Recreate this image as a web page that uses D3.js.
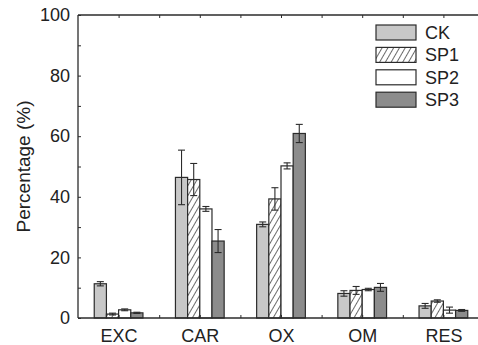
<!doctype html>
<html lang="en">
<head>
  <meta charset="utf-8">
  <title>Percentage by fraction</title>
  <script src="https://cdn.jsdelivr.net/npm/d3@7"></script>
  <style>
    body{margin:0;background:#fff}
    text{font-family:"Liberation Sans",Arial,sans-serif;fill:#222}
  </style>
</head>
<body>
<div id="chart"></div>
<script>
var categories = ["EXC", "CAR", "OX", "OM", "RES"];
var series = ["CK", "SP1", "SP2", "SP3"];
var ck = [11.3, 46.4, 30.9, 8.1, 4.0];
var ckErr = [0.7, 9.0, 0.8, 0.9, 0.8];
var sp1 = [1.3, 45.7, 39.3, 9.1, 5.6];
var sp1Err = [0.3, 5.3, 3.7, 1.3, 0.4];
var sp2 = [2.7, 36.0, 50.2, 9.4, 2.6];
var sp2Err = [0.3, 0.8, 1.0, 0.4, 1.0];
var sp3 = [1.7, 25.4, 60.9, 10.1, 2.5];
var sp3Err = [0.2, 3.8, 3.0, 1.3, 0.3];
var yTicks = [0, 20, 40, 60, 80, 100];

var values = [ck, sp1, sp2, sp3], errors = [ckErr, sp1Err, sp2Err, sp3Err];
var fills = ["#c8c8c8", "url(#hatch)", "#ffffff", "#8c8c8c"];
var ink = "#2b2b2b";

var W = 478, H = 345,
    mLeft = 78, mTop = 15, mBottom = 318;

var svg = d3.select("#chart").append("svg").attr("width", W).attr("height", H);

var defs = svg.append("defs");
defs.append("pattern").attr("id", "hatch").attr("patternUnits", "userSpaceOnUse")
  .attr("width", 5).attr("height", 5).attr("patternTransform", "rotate(30)")
  .call(function (p) {
    p.append("rect").attr("width", 5).attr("height", 5).attr("fill", "#fff");
    p.append("line").attr("x1", 0).attr("y1", 0).attr("x2", 0).attr("y2", 5)
      .attr("stroke", ink).attr("stroke-width", 1.4);
  });

// positions: category i sits at i + 1, frame starts at 0.5
var x = d3.scaleLinear().domain([0.5, 5.5]).range([mLeft, mLeft + 406]);
var y = d3.scaleLinear().domain([0, 100]).range([mBottom, mTop]);
var bw = 0.15;

// bars
var rows = [];
categories.forEach(function (c, i) {
  series.forEach(function (s, j) {
    rows.push({ c: c, i: i, j: j, v: values[j][i], e: errors[j][i] });
  });
});

var g = svg.append("g");
g.selectAll("rect.bar").data(rows).enter().append("rect")
  .attr("class", "bar")
  .attr("x", function (d) { return x(d.i + 1 - 2 * bw + d.j * bw); })
  .attr("width", function () { return x(1 + bw) - x(1); })
  .attr("y", function (d) { return y(d.v); })
  .attr("height", function (d) { return y(0) - y(d.v); })
  .attr("fill", function (d) { return fills[d.j]; })
  .attr("stroke", ink).attr("stroke-width", 1.2);

// error bars
var eb = g.selectAll("g.err").data(rows).enter().append("g").attr("class", "err")
  .attr("stroke", ink).attr("stroke-width", 1.1);
function cx(d) { return x(d.i + 1 - 1.5 * bw + d.j * bw); }
eb.append("line")
  .attr("x1", cx).attr("x2", cx)
  .attr("y1", function (d) { return y(d.v + d.e); })
  .attr("y2", function (d) { return y(d.v - d.e); });
[1, -1].forEach(function (sg) {
  eb.append("line")
    .attr("x1", function (d) { return cx(d) - 3.5; })
    .attr("x2", function (d) { return cx(d) + 3.5; })
    .attr("y1", function (d) { return y(d.v + sg * d.e); })
    .attr("y2", function (d) { return y(d.v + sg * d.e); });
});

// frame
var frame = svg.append("g").attr("stroke", ink).attr("stroke-width", 1.3);
frame.append("line").attr("x1", mLeft).attr("x2", W).attr("y1", mTop).attr("y2", mTop);
frame.append("line").attr("x1", mLeft).attr("x2", W).attr("y1", mBottom).attr("y2", mBottom);
frame.append("line").attr("x1", mLeft).attr("x2", mLeft).attr("y1", mTop).attr("y2", mBottom);

// y axis
var yAxis = svg.append("g").attr("transform", "translate(" + mLeft + ",0)")
  .call(d3.axisLeft(y).tickValues(yTicks).tickSize(0).tickPadding(8));
yAxis.select(".domain").remove();
yAxis.selectAll("text").style("font-size", "18px").attr("fill", "#222");
svg.append("g").attr("transform", "translate(" + mLeft + ",0)")
  .call(d3.axisRight(y).tickValues(d3.range(0, 101, 10)).tickSize(3).tickFormat(""))
  .call(function (a) { a.select(".domain").remove(); a.selectAll("line").attr("stroke", ink); });

// x axis
var xAxis = svg.append("g").attr("transform", "translate(0," + mBottom + ")")
  .call(d3.axisBottom(x).tickValues(d3.range(1, 6)).tickSize(0).tickPadding(11)
    .tickFormat(function (d) { return categories[d - 1]; }));
xAxis.select(".domain").remove();
xAxis.selectAll("text").style("font-size", "18px").attr("fill", "#222");
var minor = d3.range(1, 11).map(function (k) { return 0.5 + k * 0.5; });
svg.append("g").attr("transform", "translate(0," + mBottom + ")")
  .call(d3.axisTop(x).tickValues(minor).tickSize(3).tickFormat(""))
  .call(function (a) { a.select(".domain").remove(); a.selectAll("line").attr("stroke", ink); });
svg.append("g").attr("transform", "translate(0," + mTop + ")")
  .call(d3.axisBottom(x).tickValues(minor).tickSize(3).tickFormat(""))
  .call(function (a) { a.select(".domain").remove(); a.selectAll("line").attr("stroke", ink); });

svg.append("text")
  .attr("transform", "translate(30," + (mTop + mBottom) / 2 + ") rotate(-90)")
  .attr("text-anchor", "middle")
  .style("font-size", "19px")
  .text("Percentage (%)");

// legend
var lg = svg.append("g").attr("transform", "translate(376,25)");
var li = lg.selectAll("g").data(series).enter().append("g")
  .attr("transform", function (d, j) { return "translate(0," + j * 22.4 + ")"; });
li.append("rect").attr("width", 40).attr("height", 15)
  .attr("fill", function (d, j) { return fills[j]; })
  .attr("stroke", ink).attr("stroke-width", 1.2);
li.append("text").attr("x", 49).attr("y", 14).style("font-size", "18px").text(function (d) { return d; });
</script>
</body>
</html>
